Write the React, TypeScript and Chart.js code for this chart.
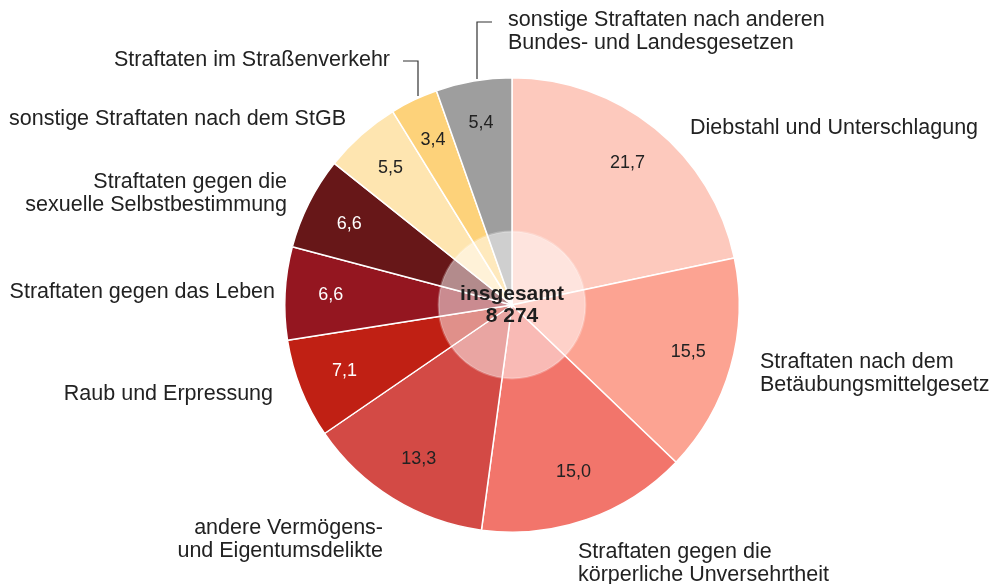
import React, { useEffect, useRef } from "react";
import Chart from "chart.js/auto";

const categories = [
  "Diebstahl und Unterschlagung",
  "Straftaten nach dem Betäubungsmittelgesetz",
  "Straftaten gegen die körperliche Unversehrtheit",
  "andere Vermögens- und Eigentumsdelikte",
  "Raub und Erpressung",
  "Straftaten gegen das Leben",
  "Straftaten gegen die sexuelle Selbstbestimmung",
  "sonstige Straftaten nach dem StGB",
  "Straftaten im Straßenverkehr",
  "sonstige Straftaten nach anderen Bundes- und Landesgesetzen",
];
const labelLines = [
  ["Diebstahl und Unterschlagung"],
  ["Straftaten nach dem", "Betäubungsmittelgesetz"],
  ["Straftaten gegen die", "körperliche Unversehrtheit"],
  ["andere Vermögens-", "und Eigentumsdelikte"],
  ["Raub und Erpressung"],
  ["Straftaten gegen das Leben"],
  ["Straftaten gegen die", "sexuelle Selbstbestimmung"],
  ["sonstige Straftaten nach dem StGB"],
  ["Straftaten im Straßenverkehr"],
  ["sonstige Straftaten nach anderen", "Bundes- und Landesgesetzen"],
];
const values = [21.7, 15.5, 15.0, 13.3, 7.1, 6.6, 6.6, 5.5, 3.4, 5.4];
const totalLabel = ["insgesamt", "8 274"];

const colors = [
  "#fdc9bd", "#fca392", "#f2756b", "#d34a45", "#c02014",
  "#941620", "#671718", "#fee5b0", "#fdd27a", "#9e9e9e",
];
const valueTextColors = [
  "#222", "#222", "#222", "#222", "#fff", "#fff", "#fff", "#222", "#222", "#222",
];
// value label nudges [dx, dy]
const valueNudge = [
  [0, 1], [0, -3], [1, -6], [3, -2], [3, -2], [2, 0], [1, 1], [0, 0], [0, 1], [0, -1],
];
// outer label layout: x, first line y, align
const outerLayout: [number, number, CanvasTextAlign][] = [
  [690, 128, "left"],
  [760, 362, "left"],
  [578, 552, "left"],
  [383, 528, "right"],
  [273, 394, "right"],
  [275, 292, "right"],
  [287, 182, "right"],
  [346, 119, "right"],
  [390, 60, "right"],
  [508, 20, "left"],
];
// leader lines (index -> polyline)
const leaders: Record<number, number[][]> = {
  8: [[403, 61], [418, 61], [418, 96]],
  9: [[492, 22], [477, 22], [477, 79]],
};

const FONT = '"Liberation Sans", Arial, Helvetica, sans-serif';

const overlayPlugin = {
  id: "overlay",
  afterDatasetsDraw(chart: any) {
    const ctx = chart.ctx;
    const meta = chart.getDatasetMeta(0);
    const arcs = meta.data;
    if (!arcs.length) return;
    const cx = arcs[0].x;
    const cy = arcs[0].y;
    const R = arcs[0].outerRadius;
    ctx.save();
    // value labels
    ctx.font = `18px ${FONT}`;
    ctx.textAlign = "center";
    ctx.textBaseline = "middle";
    arcs.forEach((a: any, i: number) => {
      const mid = (a.startAngle + a.endAngle) / 2;
      const r = R * 0.807;
      const x = cx + Math.cos(mid) * r + valueNudge[i][0];
      const y = cy + Math.sin(mid) * r + valueNudge[i][1];
      ctx.fillStyle = valueTextColors[i];
      ctx.fillText(values[i].toFixed(1).replace(".", ","), x, y);
    });
    // center translucent circle
    const ir = R * 0.323;
    ctx.beginPath();
    ctx.arc(cx, cy, ir, 0, Math.PI * 2);
    ctx.fillStyle = "rgba(255,255,255,0.5)";
    ctx.fill();
    ctx.lineWidth = 2;
    ctx.strokeStyle = "rgba(255,255,255,0.25)";
    ctx.stroke();
    ctx.fillStyle = "#1e1e1e";
    ctx.font = `bold 21px ${FONT}`;
    ctx.fillText(totalLabel[0], cx, cy - 11);
    ctx.fillText(totalLabel[1], cx, cy + 11);
    // outer labels
    ctx.font = `21.5px ${FONT}`;
    ctx.fillStyle = "#222";
    outerLayout.forEach(([x, y, align], i) => {
      ctx.textAlign = align;
      labelLines[i].forEach((ln, j) => ctx.fillText(ln, x, y + j * 23));
    });
    // leaders
    ctx.strokeStyle = "#333";
    ctx.lineWidth = 1.2;
    Object.values(leaders).forEach((pts) => {
      ctx.beginPath();
      pts.forEach(([x, y], k) => (k ? ctx.lineTo(x, y) : ctx.moveTo(x, y)));
      ctx.stroke();
    });
    ctx.restore();
  },
};

export default function App() {
  const ref = useRef<HTMLCanvasElement>(null);
  useEffect(() => {
    document.body.style.margin = "0";
    const chart = new Chart(ref.current!, {
      type: "pie",
      data: {
        labels: categories,
        datasets: [
          {
            data: values,
            backgroundColor: colors,
            borderColor: "#ffffff",
            borderWidth: 1.5,
          },
        ],
      },
      options: {
        responsive: false,
        animation: false,
        layout: { padding: { left: 284, right: 252, top: 77, bottom: 51 } },
        plugins: { legend: { display: false }, tooltip: { enabled: false } },
      },
      plugins: [overlayPlugin],
    });
    return () => chart.destroy();
  }, []);
  return <canvas ref={ref} width={992} height={584} style={{ display: "block" }} />;
}
